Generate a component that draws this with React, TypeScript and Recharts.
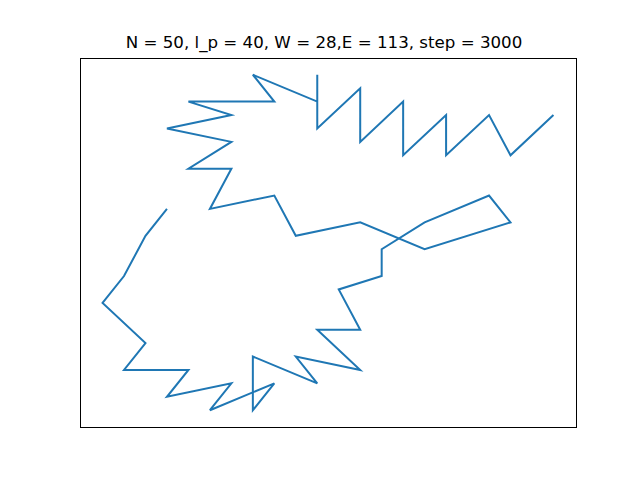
import React from 'react';
import { LineChart, Line, XAxis, YAxis } from 'recharts';

// chain vertices in order (x right, y up)
const xs = [3, 2, 1, 0, 2, 1, 4, 3, 6, 5, 8, 7, 7, 10, 9, 12, 10, 12, 11, 13, 13, 15, 18, 19, 15, 12, 9, 8, 5, 6, 4, 6, 3, 6, 4, 8, 7, 10, 10, 10, 12, 12, 14, 14, 16, 16, 18, 19, 21];
const ys = [15, 13, 10, 8, 5, 3, 3, 1, 2, 0, 2, 0, 4, 2, 4, 3, 6, 6, 9, 10, 12, 14, 16, 14, 12, 14, 13, 16, 15, 18, 18, 20, 21, 22, 23, 23, 25, 23, 25, 21, 24, 20, 23, 19, 22, 19, 22, 19, 22];

const title = 'N = 50, l_p = 40, W = 28,E = 113, step = 3000';

const chain = xs.map((x, i) => ({ x, y: ys[i] }));

const App: React.FC = () => {
  return (
    <div style={{ position: 'absolute', left: 0, top: 0, width: 640, height: 480, background: '#fff' }}>
      <div
        style={{
          position: 'absolute',
          left: 76,
          width: 496,
          top: 33,
          textAlign: 'center',
          fontFamily: 'DejaVu Sans',
          fontSize: 16.67,
          color: '#000',
          lineHeight: '20px',
        }}
      >
        {title}
      </div>
      <LineChart width={640} height={480} data={chain} margin={{ top: 58, right: 64, bottom: 53, left: 80 }}>
        <XAxis dataKey="x" type="number" domain={[-1.05, 22.05]} hide allowDataOverflow />
        <YAxis type="number" domain={[-1.25, 26.25]} hide allowDataOverflow />
        <Line
          type="linear"
          dataKey="y"
          stroke="#1f77b4"
          strokeWidth={2}
          dot={false}
          isAnimationActive={false}
        />
      </LineChart>
      {/* axes frame */}
      <div
        style={{
          position: 'absolute',
          left: 80,
          top: 58,
          width: 497,
          height: 370,
          boxSizing: 'border-box',
          border: '1px solid #000',
          pointerEvents: 'none',
        }}
      />
    </div>
  );
};

export default App;
